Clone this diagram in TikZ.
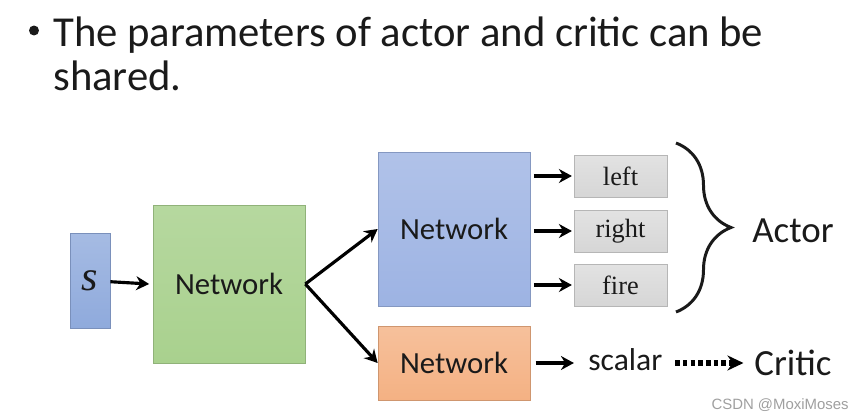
\documentclass[tikz,border=0pt]{standalone}
\usepackage{fontspec}
\setmainfont{Carlito}
\newfontfamily\timesfont{Liberation Serif}
\newfontfamily\markfont{Liberation Sans}
\usepackage{xcolor}
\usetikzlibrary{arrows.meta,decorations.pathreplacing}

\definecolor{inkblack}{HTML}{1A1A1A}
\definecolor{stateblue}{HTML}{8FAADC}
\definecolor{netblue}{HTML}{9DB3E3}
\definecolor{netgreen}{HTML}{A9D18E}
\definecolor{netorange}{HTML}{F4B183}
\definecolor{actgray}{HTML}{D6D6D6}

\begin{document}
\begin{tikzpicture}[x=0.02cm,y=-0.02cm]
\useasboundingbox (0,0) rectangle (865,419);

% headline
\node[circle,fill=inkblack,inner sep=0,minimum size=0.2cm] (bullet) at (34,30.5) {};
\begin{scope}[every node/.style={inner sep=0,text=inkblack,font=\fontsize{24.3}{26}\selectfont}]
    \node[anchor=base west] (line1) at (53,46) {The parameters of actor and critic can be};
    \node[anchor=base west] (line2) at (53,90) {shared.};
\end{scope}

% boxes
\begin{scope}[every node/.style={draw,inner sep=0,text=inkblack,font=\fontsize{17.5}{20}\selectfont}]
    \node[draw=stateblue!85!black,top color=stateblue!80!white,bottom color=stateblue,
          minimum width=0.8cm,minimum height=1.9cm] (S) at (90,280.5)
          {\timesfont\itshape\fontsize{24}{26}\selectfont s};
    \node[draw=netgreen!85!black,top color=netgreen!85!white,bottom color=netgreen,
          minimum width=3.04cm,minimum height=3.16cm] (N1) at (229,284) {Network};
    \node[draw=netblue!85!black,top color=netblue!80!white,bottom color=netblue,
          minimum width=3.04cm,minimum height=3.08cm] (N2) at (454,229) {Network};
    \node[draw=netorange!85!black,top color=netorange!80!white,bottom color=netorange,
          minimum width=3.04cm,minimum height=1.48cm] (N3) at (454,363) {Network};
\end{scope}

% actions
\begin{scope}[every node/.style={draw=actgray!85!black,inner sep=0,text=inkblack,
              top color=actgray!70!white,bottom color=actgray,
              minimum width=1.86cm,minimum height=0.84cm,font=\timesfont\fontsize{15}{18}\selectfont}]
    \node (L) at (620.5,176) {left};
    \node (R) at (620.5,231) {right};
    \node (F) at (620.5,285) {fire};
\end{scope}

% labels
\begin{scope}[every node/.style={inner sep=0,text=inkblack}]
    \node[anchor=west,font=\fontsize{21}{24}\selectfont] (actor) at (752,231) {Actor};
    \node[anchor=west,font=\fontsize{18}{22}\selectfont] (scalar) at (588,360) {scalar};
    \node[anchor=west,font=\fontsize{21}{24}\selectfont] (critic) at (754,363) {Critic};
    \node[anchor=south east,text=gray!75,font=\markfont\fontsize{8.5}{10}\selectfont] (mark) at (849,412) {CSDN @MoxiMoses};
\end{scope}

% brace
\draw[line width=1.7pt,inkblack,decorate,decoration={brace,amplitude=1.1cm}]
    (676,143) -- (676,312) coordinate[midway] (mid);

% connectors
\begin{scope}[>={Stealth[length=0.26cm,width=0.28cm]},line width=1.8pt,draw=black]
    \draw[->] (S) -- ([xshift=-2pt]N1.west);
    \draw[->] (N1.east) -- (N2.west);
    \draw[->] (N1.east) -- (N3.west);
    \draw[->] ([xshift=2pt]N2.east |- L.west) -- ([xshift=-1pt]L.west);
    \draw[->] ([xshift=2pt]N2.east |- R.west) -- ([xshift=-1pt]R.west);
    \draw[->] ([xshift=2pt]N2.east |- F.west) -- ([xshift=-1pt]F.west);
    \draw[->] ([xshift=3pt]N3.east) -- ([xshift=-8pt]scalar.west |- N3.east);
    \draw[-{Stealth[length=0.32cm,width=0.3cm]},line width=3pt,dash pattern=on 2.6pt off 1.8pt]
        ([xshift=7pt]scalar.east |- N3.east) -- ([xshift=-6pt]critic.west |- N3.east);
\end{scope}
\end{tikzpicture}
\end{document}
